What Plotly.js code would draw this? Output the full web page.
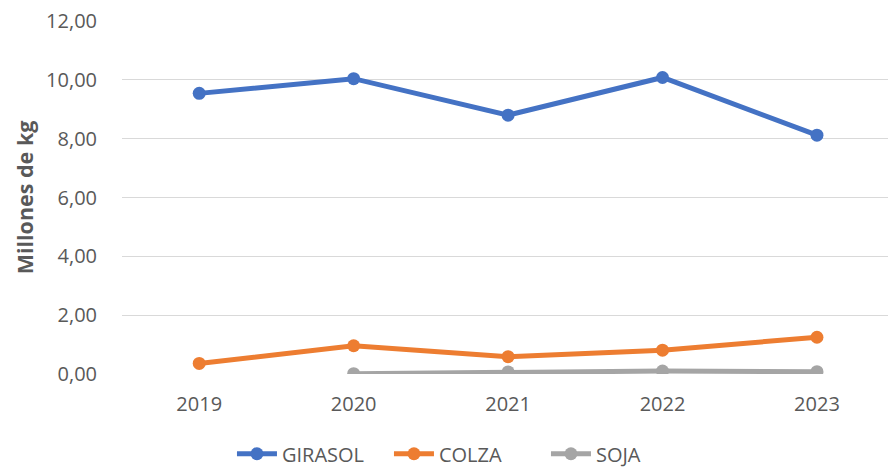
<!DOCTYPE html>
<html>
<head>
<meta charset="utf-8">
<script src="https://cdn.plot.ly/plotly-3.0.1.min.js"></script>
<style>html,body{margin:0;padding:0;background:#fff;}#chart{width:888px;height:468px;}</style>
</head>
<body>
<div id="chart"></div>
<script>
const years = ['2019', '2020', '2021', '2022', '2023'];
const girasol = [9.54, 10.04, 8.80, 10.08, 8.12];
const colza = [0.36, 0.96, 0.59, 0.81, 1.25];
const soja = [null, 0.01, 0.07, 0.10, 0.08];
const yTicks = [0, 2, 4, 6, 8, 10, 12];
const yTickText = ['0,00', '2,00', '4,00', '6,00', '8,00', '10,00', '12,00'];

const FONT = 'Open Sans, Noto Sans, sans-serif';
const GREY = '#595959';

function series(name, y, color) {
  return {
    x: years, y: y, name: name, type: 'scatter', mode: 'lines+markers',
    line: {color: color, width: 5},
    marker: {color: color, size: 13},
    connectgaps: false,
    hoverinfo: 'skip'
  };
}

const data = [
  series('GIRASOL', girasol, '#4472C4'),
  series('COLZA', colza, '#ED7D31'),
  series('SOJA', soja, '#A5A5A5')
];

const layout = {
  width: 888, height: 468,
  margin: {l: 122, r: 0, t: 21, b: 94, autoexpand: false},
  paper_bgcolor: '#ffffff', plot_bgcolor: '#ffffff',
  font: {family: FONT, color: GREY, size: 20},
  showlegend: true,
  legend: {
    orientation: 'h', xref: 'paper', yref: 'paper',
    x: 0.451, xanchor: 'center', y: -0.226, yanchor: 'middle',
    font: {family: FONT, color: GREY, size: 20},
    traceorder: 'normal', itemwidth: 40, entrywidth: 102
  },
  xaxis: {
    type: 'category', range: [-0.5, 4.46],
    showgrid: false, zeroline: false, showline: false,
    ticks: 'outside', ticklen: 12, tickcolor: 'rgba(0,0,0,0)',
    tickfont: {family: FONT, color: GREY, size: 20}
  },
  yaxis: {
    range: [0, 12], tickvals: yTicks, ticktext: yTickText,
    showgrid: true, gridcolor: '#D9D9D9', gridwidth: 1,
    zeroline: false, showline: false,
    ticks: 'outside', ticklen: 20, tickcolor: 'rgba(0,0,0,0)',
    tickfont: {family: FONT, color: GREY, size: 20},
    title: {text: '<b>Millones de kg</b>', font: {family: FONT, color: GREY, size: 21.5}, standoff: 6}
  }
};

Plotly.newPlot('chart', data, layout, {displayModeBar: false, staticPlot: true});
</script>
</body>
</html>
